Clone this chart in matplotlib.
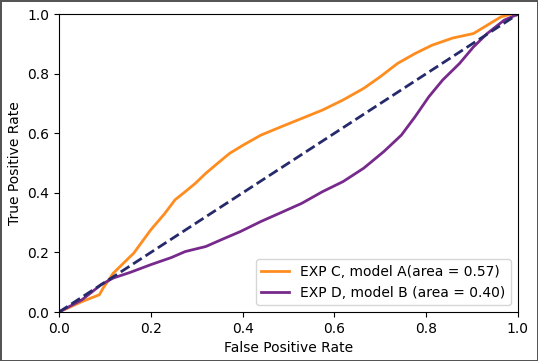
import numpy as np
import matplotlib
matplotlib.use("Agg")
import matplotlib.pyplot as plt

# ROC points
fpr_c = [0.0, 0.05, 0.088, 0.096, 0.118, 0.163, 0.2, 0.23, 0.253, 0.275, 0.297, 0.32,
         0.35, 0.372, 0.402, 0.44, 0.484, 0.529, 0.574, 0.619, 0.664, 0.7, 0.738,
         0.776, 0.813, 0.858, 0.903, 0.933, 0.963, 0.985, 1.0]
tpr_c = [0.0, 0.035, 0.058, 0.08, 0.13, 0.198, 0.276, 0.33, 0.377, 0.404, 0.432, 0.466,
         0.505, 0.533, 0.561, 0.594, 0.622, 0.65, 0.678, 0.712, 0.751, 0.79, 0.835,
         0.868, 0.896, 0.92, 0.935, 0.963, 0.991, 1.0, 1.0]

fpr_d = [0.0, 0.05, 0.092, 0.118, 0.155, 0.2, 0.245, 0.275, 0.32, 0.357, 0.395, 0.44,
         0.484, 0.529, 0.574, 0.619, 0.664, 0.708, 0.746, 0.776, 0.806, 0.836, 0.873,
         0.903, 0.933, 0.97, 1.0]
tpr_d = [0.0, 0.041, 0.092, 0.114, 0.133, 0.159, 0.183, 0.203, 0.22, 0.245, 0.27, 0.304,
         0.334, 0.365, 0.404, 0.438, 0.483, 0.539, 0.594, 0.656, 0.723, 0.779, 0.835,
         0.89, 0.935, 0.98, 1.0]

label_c = 'EXP C, model A(area = 0.57)'
label_d = 'EXP D, model B (area = 0.40)'

fig = plt.figure(figsize=(5.38, 3.61), dpi=100)
fig.patch.set_edgecolor('#555555')
fig.patch.set_linewidth(2)
ax = fig.add_axes([0.1097, 0.1357, 0.853, 0.825])

ax.plot(fpr_c, tpr_c, color='#ff8c1e', lw=2, label=label_c)
ax.plot(fpr_d, tpr_d, color='#772a8c', lw=2, label=label_d)
ax.plot([0, 1], [0, 1], color='#262a6b', lw=2, linestyle='--')

ax.set_xlim(0.0, 1.0)
ax.set_ylim(0.0, 1.0)
ax.set_xlabel('False Positive Rate')
ax.set_ylabel('True Positive Rate')
ax.legend(loc='lower right')

plt.savefig('out.png', dpi=100)
